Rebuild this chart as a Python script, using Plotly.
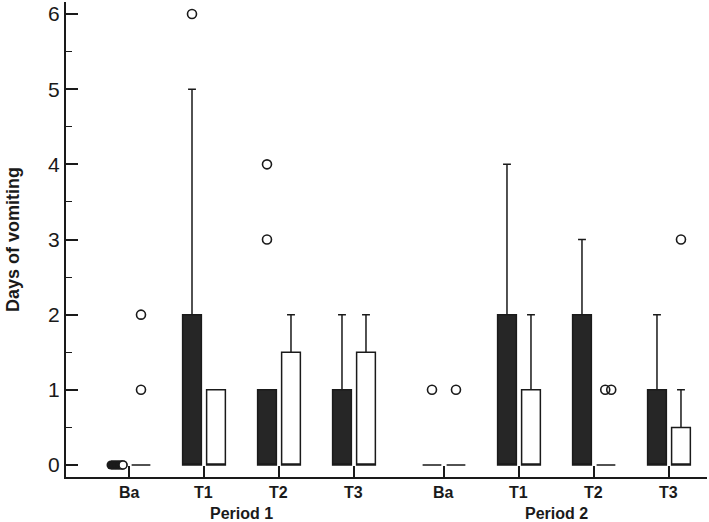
import plotly.graph_objects as go

# ---------------- data ----------------
categories = ["Ba", "T1", "T2", "T3"]
periods = ["Period 1", "Period 2"]

# dark series (box from 0 to q3, whisker to max)
dark_q3_p1 = [0, 2, 1, 1]
dark_max_p1 = [0, 5, 1, 2]
dark_q3_p2 = [0, 2, 2, 1]
dark_max_p2 = [0, 4, 3, 2]

# white series
white_q3_p1 = [0, 1, 1.5, 1.5]
white_max_p1 = [0, 1, 2, 2]
white_q3_p2 = [0, 1, 0, 0.5]
white_max_p2 = [0, 2, 0, 1]

# outliers
dark_out_p1 = [[0, 0, 0, 0, 0], [6], [3, 4], []]
dark_out_p2 = [[1], [], [], []]
white_out_p1 = [[1, 2], [], [], []]
white_out_p2 = [[1], [], [1, 1], [3]]

# ---------------- layout helpers ----------------
period_gap = 4.2
offset = 0.16
box_w = 0.25
INK = "#1a1a1a"

def positions(p):
    return [p * period_gap + i + 1 for i in range(len(categories))]

fig = go.Figure()

series = [
    ("dark", "#262626", [dark_q3_p1, dark_q3_p2], [dark_max_p1, dark_max_p2], [dark_out_p1, dark_out_p2], -offset),
    ("white", "#ffffff", [white_q3_p1, white_q3_p2], [white_max_p1, white_max_p2], [white_out_p1, white_out_p2], offset),
]

for name, fill, q3s, maxs, outs, off in series:
    xs, q1, med, q3, lo, hi = [], [], [], [], [], []
    for p in range(len(periods)):
        for i, x in enumerate(positions(p)):
            xs.append(x + off)
            q1.append(0)
            med.append(0)
            q3.append(q3s[p][i])
            lo.append(0)
            hi.append(maxs[p][i])
    fig.add_trace(go.Box(
        x=xs, q1=q1, median=med, q3=q3, lowerfence=lo, upperfence=hi,
        width=box_w, whiskerwidth=0.42, fillcolor=fill,
        line=dict(color=INK, width=1.5), showlegend=False,
        hoverinfo="skip",
    ))

# outliers
for name, fill, q3s, maxs, outs, off in series:
    for p in range(len(periods)):
        for i, x in enumerate(positions(p)):
            vals = outs[p][i]
            counts = {}
            for v in vals:
                counts[v] = counts.get(v, 0) + 1
            for v, n in counts.items():
                c = x + off
                if n == 1:
                    fig.add_trace(go.Scatter(
                        x=[c], y=[v], mode="markers", showlegend=False, hoverinfo="skip",
                        marker=dict(symbol="circle-open", size=9, color=INK, line=dict(width=1.6))))
                elif n == 2:
                    s = 0.04
                    fig.add_trace(go.Scatter(
                        x=[c - s + 0.03, c + s + 0.03], y=[v, v], mode="markers", showlegend=False, hoverinfo="skip",
                        marker=dict(symbol="circle-open", size=9, color=INK, line=dict(width=1.6))))
                else:
                    s = 0.08
                    step = 2 * s / (n - 1)
                    cx = [c - s + k * step for k in range(n)]
                    fig.add_trace(go.Scatter(
                        x=cx, y=[v] * n, mode="lines+markers", showlegend=False, hoverinfo="skip",
                        line=dict(color=INK, width=9),
                        marker=dict(symbol="circle", size=9, color=INK)))
                    fig.add_trace(go.Scatter(
                        x=[cx[-1]], y=[v], mode="markers", showlegend=False, hoverinfo="skip",
                        marker=dict(symbol="circle", size=8, color="white",
                                    line=dict(color=INK, width=1.6))))

tickvals = []
annotations = []
label_font = dict(family="Liberation Sans Narrow, Arial Narrow, Liberation Sans, sans-serif", size=16, color=INK)
for p, label in enumerate(periods):
    pos = positions(p)
    for i, x in enumerate(pos):
        tickvals.append(x)
        annotations.append(dict(
            x=x, y=0, xref="x", yref="paper", yanchor="middle", yshift=-15,
            text="<b>" + categories[i] + "</b>", showarrow=False, font=label_font))
    annotations.append(dict(
        x=(pos[0] + pos[-1]) / 2, y=0, xref="x", yref="paper", yanchor="middle",
        yshift=-36, text="<b>" + label + "</b>", showarrow=False,
        font=dict(family="Liberation Sans, Arial, sans-serif", size=16, color=INK)))

fig.update_layout(
    width=709, height=522,
    margin=dict(l=66, r=2, t=2, b=45),
    paper_bgcolor="white", plot_bgcolor="white",
    annotations=annotations,
    xaxis=dict(
        range=[0.16, 8.707], tickvals=tickvals, showticklabels=False,
        ticks="inside", ticklen=11, tickwidth=1.6, tickcolor=INK,
        showline=True, linecolor=INK, linewidth=2,
        showgrid=False, zeroline=False,
    ),
    yaxis=dict(
        range=[-0.16, 6.16], tickvals=[0, 1, 2, 3, 4, 5, 6],
        ticks="inside", ticklen=12, tickwidth=1.6, tickcolor=INK,
        minor=dict(dtick=0.5, ticks="inside", ticklen=6, tickwidth=1.2, tickcolor=INK, showgrid=False),
        showline=True, linecolor=INK, linewidth=2,
        showgrid=False, zeroline=False,
        tickfont=dict(family="Liberation Sans, Arial, sans-serif", size=21, color=INK),
        title=dict(text="<b>Days of vomiting</b>", standoff=24,
                   font=dict(family="Liberation Sans, Arial, sans-serif", size=18, color=INK)),
    ),
)

fig.write_html("out.html", config={"displayModeBar": False},
               post_script="document.body.style.margin='0';document.body.style.overflow='hidden';")
